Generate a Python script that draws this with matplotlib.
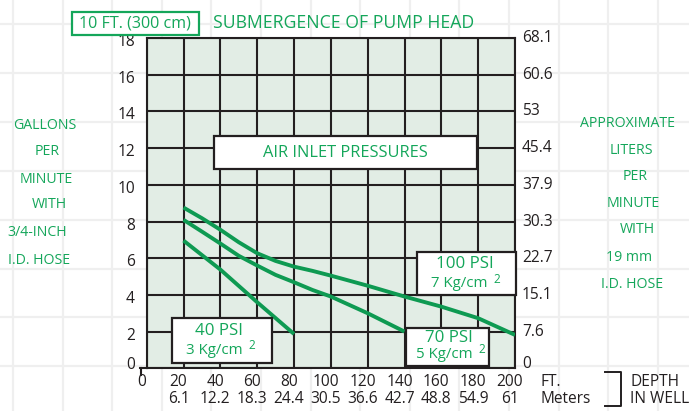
import matplotlib

matplotlib.use("Agg")
import matplotlib.pyplot as plt
from matplotlib.lines import Line2D
from matplotlib.patches import Rectangle
from matplotlib.transforms import ScaledTranslation

plt.rcParams["font.family"] = ["Open Sans", "DejaVu Sans"]

W, H = 689, 411
GREEN_TXT = "#14a65a"
GREEN_LINE = "#0e9a52"
DARK = "#231f20"
PLOT_BG = "#e2ede5"

# depth in well (ft) and flow (gpm)
x_40psi = [20, 40, 60, 80]
y_40psi = [6.96, 5.38, 3.6, 1.87]
x_70psi = [20, 30, 40, 50, 60, 70, 80, 90, 100, 120, 140]
y_70psi = [8.09, 7.45, 6.8, 6.13, 5.6, 5.09, 4.69, 4.27, 3.91, 3.0, 2.0]
x_100psi = [20, 30, 40, 50, 60, 70, 80, 90, 100, 120, 140, 160, 180, 200]
y_100psi = [8.76, 8.18, 7.55, 6.87, 6.27, 5.85, 5.54, 5.31, 5.05, 4.5, 3.91, 3.36, 2.73, 1.82]

ft_ticks = [0, 20, 40, 60, 80, 100, 120, 140, 160, 180, 200]
meter_labels = ["", "6.1", "12.2", "18.3", "24.4", "30.5", "36.6", "42.7", "48.8", "54.9", "61"]
gpm_ticks = [0, 2, 4, 6, 8, 10, 12, 14, 16, 18]
lpm_labels = ["0", "7.6", "15.1", "22.7", "30.3", "37.9", "45.4", "53", "60.6", "68.1"]

left_title = ["GALLONS", "PER", "MINUTE", "WITH", "3/4-INCH", "I.D. HOSE"]
right_title = ["APPROXIMATE", "LITERS", "PER", "MINUTE", "WITH", "19 mm", "I.D. HOSE"]


def fx(x):
    return x / W


def fy(y):
    return 1 - y / H


fig = plt.figure(figsize=(W / 100, H / 100), dpi=100)
fig.patch.set_facecolor("white")

# faint background grid of the page
for i in range(14):
    gx = 13 + i * 49.6
    fig.add_artist(Line2D([fx(gx)] * 2, [0, 1], color="#efefef", lw=1.6, zorder=-2))
for i in range(9):
    gy = 24.5 + i * 48.8
    fig.add_artist(Line2D([0, 1], [fy(gy)] * 2, color="#efefef", lw=1.6, zorder=-2))

left, right, top, bottom = 146.7, 515.0, 38.0, 368.3
ax = fig.add_axes([fx(left), fy(bottom), fx(right - left), (bottom - top) / H])
ax.set_facecolor(PLOT_BG)
ax.set_xlim(0, 200)
ax.set_ylim(0, 18)
ax.set_xticks(ft_ticks)
ax.set_yticks(gpm_ticks)
ax.tick_params(length=0, labelbottom=False, labelleft=False)
ax.grid(True, color=DARK, lw=1.5)
for s in ax.spines.values():
    s.set_color(DARK)
    s.set_linewidth(1.5)

for xs, ys in [(x_40psi, y_40psi), (x_70psi, y_70psi), (x_100psi, y_100psi)]:
    ax.plot(xs, ys, color=GREEN_LINE, lw=2.8, solid_capstyle="butt", zorder=3)

# tick labels
for v in gpm_ticks:
    dy = 3 if v == 0 else -4
    off = ScaledTranslation(0, dy / 100, fig.dpi_scale_trans)
    ax.text(-0.032, v, str(v), transform=ax.get_yaxis_transform() + off,
            ha="right", va="center", fontsize=11.2, color=DARK)
for v, lab in zip(gpm_ticks, lpm_labels):
    dy = 4 if v == 0 else 0
    off = ScaledTranslation(0, dy / 100, fig.dpi_scale_trans)
    ax.text(1.019, v, lab, transform=ax.get_yaxis_transform() + off,
            ha="left", va="center", fontsize=11.2, color=DARK)
for v, lab in zip(ft_ticks, meter_labels):
    off1 = ScaledTranslation(-5 / 100, -13.4 / 100, fig.dpi_scale_trans)
    off2 = ScaledTranslation(-5 / 100, -30.7 / 100, fig.dpi_scale_trans)
    ax.text(v, 0, str(v), transform=ax.get_xaxis_transform() + off1,
            ha="center", va="center", fontsize=11.2, color=DARK)
    if lab:
        ax.text(v, 0, lab, transform=ax.get_xaxis_transform() + off2,
                ha="center", va="center", fontsize=11.2, color=DARK)

# small extension of bottom axis with tick at 0
fig.add_artist(Line2D([fx(140.3), fx(left)], [fy(bottom)] * 2, color=DARK, lw=1.5))
fig.add_artist(Line2D([fx(141)] * 2, [fy(bottom), fy(374.5)], color=DARK, lw=1.5))

fig.text(fx(540), fy(381.7), "FT.", ha="left", va="center", fontsize=11.2, color=DARK)
fig.text(fx(540), fy(399), "Meters", ha="left", va="center", fontsize=11.2, color=DARK)
fig.add_artist(Line2D([fx(605), fx(621), fx(621), fx(605)],
                      [fy(372), fy(372), fy(405.7), fy(405.7)], color=DARK, lw=1.4))
fig.text(fx(630), fy(381.7), "DEPTH", ha="left", va="center", fontsize=11.2, color=DARK)
fig.text(fx(630), fy(399), "IN WELL", ha="left", va="center", fontsize=11.2, color=DARK)

# side titles
left_pos = [(45, 125.7), (47.5, 151.7), (45.8, 179.3), (49, 204.3), (36.7, 232.7), (39, 261)]
for lab, (px, py) in zip(left_title, left_pos):
    fig.text(fx(px), fy(py), lab, ha="center", va="center", fontsize=10.2, color=GREEN_TXT)
right_pos = [(627, 123.3), (631.7, 150), (635, 176), (633, 203.3), (637, 229), (629.5, 257.3),
             (631.7, 284.3)]
for lab, (px, py) in zip(right_title, right_pos):
    fig.text(fx(px), fy(py), lab, ha="center", va="center", fontsize=10.2, color=GREEN_TXT)


def box(x0, y0, x1, y1, edge, lw=1.6):
    fig.add_artist(Rectangle((fx(x0), fy(y1)), fx(x1 - x0), (y1 - y0) / H,
                             facecolor="white", edgecolor=edge, lw=lw, zorder=4))


# top headings
box(71.7, 11.7, 199, 35, GREEN_TXT)
fig.text(fx(135.3), fy(23.3), "10 FT. (300 cm)", ha="center", va="center", fontsize=11.6,
         color=GREEN_TXT, zorder=5)
fig.text(fx(213), fy(23.3), "SUBMERGENCE OF PUMP HEAD", ha="left", va="center", fontsize=12.7,
         color=GREEN_TXT)

box(214, 135.7, 477.3, 169, DARK)
fig.text(fx(345.7), fy(152.5), "AIR INLET PRESSURES", ha="center", va="center", fontsize=11.8,
         color=GREEN_TXT, zorder=5)

# pressure labels
labels = [
    ((172.3, 318.3, 271.7, 362.7), "40 PSI", (219.2, 330.7), "3 Kg/cm", (214, 350), (251.7, 345)),
    ((406, 328.3, 489.3, 366), "70 PSI", (449, 338.3), "5 Kg/cm", (444.5, 354.3), (481.7, 349.5)),
    ((416.7, 251.7, 515.7, 295), "100 PSI", (465, 264), "7 Kg/cm", (459, 283.3), (497, 279.5)),
]
for (x0, y0, x1, y1), t1, p1, t2, p2, p3 in labels:
    box(x0, y0, x1, y1, DARK)
    fig.text(fx(p1[0]), fy(p1[1]), t1, ha="center", va="center", fontsize=12.2,
             color=GREEN_TXT, zorder=5)
    fig.text(fx(p2[0]), fy(p2[1]), t2, ha="center", va="center", fontsize=10.8,
             color=GREEN_TXT, zorder=5)
    fig.text(fx(p3[0]), fy(p3[1]), "2", ha="center", va="center", fontsize=8.5,
             color=GREEN_TXT, zorder=5)

fig.savefig("out.png", dpi=100)
